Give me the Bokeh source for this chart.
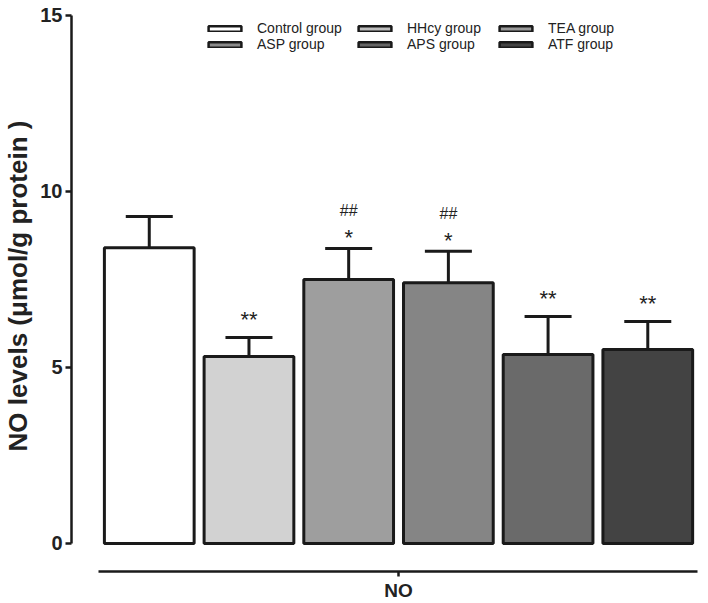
from bokeh.plotting import figure
from bokeh.models import (ColumnDataSource, Range1d, LinearAxis, FixedTicker, Legend,
                          LegendItem, Whisker, TeeHead)
from bokeh.embed import file_html
from bokeh.resources import INLINE
from bokeh.core.properties import value

# ---------------- data ----------------
groups = ["Control group", "HHcy group", "ASP group", "APS group", "TEA group", "ATF group"]
means = [8.40, 5.31, 7.50, 7.41, 5.37, 5.51]
sems = [0.89, 0.54, 0.88, 0.89, 1.08, 0.80]
stars = ["", "**", "*", "*", "**", "**"]
hashes = ["", "", "##", "##", "", ""]
bar_colors = ["#ffffff", "#d2d2d2", "#9e9e9e", "#858585", "#6a6a6a", "#434343"]
legend_columns = [["Control group", "ASP group"], ["HHcy group", "APS group"], ["TEA group", "ATF group"]]
legend_colors = {"Control group": "#ffffff", "HHcy group": "#bdbdbd", "TEA group": "#9a9a9a",
                 "ASP group": "#8a8a8a", "APS group": "#666666", "ATF group": "#444444"}
y_ticks = [0, 5, 10, 15]
x_category = "NO"
y_title = "NO levels (\u03bcmol/g protein )"

FONT = "Liberation Sans"
INK = "#1a1a1a"

xs = list(range(len(groups)))
center = (xs[0] + xs[-1]) / 2
src = ColumnDataSource(dict(
    x=xs, top=means, upper=[m + s for m, s in zip(means, sems)], color=bar_colors,
    stars=stars, hashes=hashes,
    star_off=[-18 if s == "**" else -11 for s in stars],
))

p = figure(width=708, height=603, output_backend="svg", toolbar_location=None,
           x_range=Range1d(-0.780, 5.609), y_range=Range1d(-0.7955, 15.426),
           x_axis_type=None, y_axis_type=None,
           min_border_left=71, min_border_right=0, min_border_top=0, min_border_bottom=32)
p.outline_line_color = None
p.background_fill_color = "white"

# axes
yaxis = LinearAxis(ticker=FixedTicker(ticks=y_ticks), bounds=(y_ticks[0], y_ticks[-1]),
                   axis_label=y_title)
xaxis = LinearAxis(ticker=FixedTicker(ticks=[center]), major_label_overrides={center: x_category},
                   bounds=(-0.510, 5.50), axis_label=None)
for ax in (yaxis, xaxis):
    ax.axis_line_color = INK
    ax.axis_line_width = 2.5
    ax.major_tick_line_color = INK
    ax.major_tick_line_width = 2.5
    ax.major_tick_in = 0
    ax.minor_tick_line_color = None
    ax.major_label_text_font = FONT
    ax.major_label_text_font_style = "bold"
    ax.major_label_text_color = "#222222"
yaxis.major_tick_out = 6
yaxis.major_label_standoff = 3
yaxis.major_label_text_font_size = "20px"
yaxis.axis_label_text_font = FONT
yaxis.axis_label_text_font_style = "bold"
yaxis.axis_label_text_font_size = "26px"
yaxis.axis_label_text_color = "#222222"
yaxis.axis_label_standoff = 4
xaxis.major_tick_out = 5
xaxis.major_label_standoff = 3
xaxis.axis_label_standoff = 0
xaxis.major_label_text_font_size = "19px"
p.add_layout(yaxis, "left")
p.add_layout(xaxis, "below")

# legend keys (hidden copies of the bars, in the legend's own shades)
legend_renderers = {}
for name in groups:
    i = groups.index(name)
    legend_renderers[name] = p.vbar(x=[xs[i]], top=[means[i]], width=0.90,
                                    fill_color=legend_colors[name], line_color=INK,
                                    line_width=2.5, visible=False)

# bars
p.vbar(x="x", top="top", bottom=0, width=0.90, fill_color="color", line_color=INK,
       line_width=3, source=src)

# error bars
p.add_layout(Whisker(base="x", lower="top", upper="upper", source=src, dimension="height",
                     line_color=INK, line_width=3, lower_head=None,
                     upper_head=TeeHead(size=47, line_color=INK, line_width=3)))

# significance marks
p.text(x="x", y="upper", text="stars", source=src, text_font=value(FONT),
       text_font_size="22px", text_align="center", text_baseline="alphabetic",
       y_offset="star_off", text_color="#222222")
p.text(x="x", y="upper", text="hashes", source=src, text_font=value(FONT),
       text_font_size="16px", text_align="center", text_baseline="alphabetic",
       y_offset=-38, text_color="#222222")

# legends (one per column)
legend_x = [133, 283, 424]
for ci, col in enumerate(legend_columns):
    items = [LegendItem(label=name, renderers=[legend_renderers[name]]) for name in col]
    lg = Legend(items=items, location=(legend_x[ci], 519), orientation="vertical",
                glyph_width=41, glyph_height=7, label_height=15, label_standoff=12,
                spacing=-2, padding=0, margin=0, border_line_alpha=0,
                background_fill_alpha=0, label_text_font=FONT,
                label_text_font_size="14px", label_text_color="#222222")
    p.add_layout(lg)

open("out.html", "w").write(file_html(p, INLINE))
